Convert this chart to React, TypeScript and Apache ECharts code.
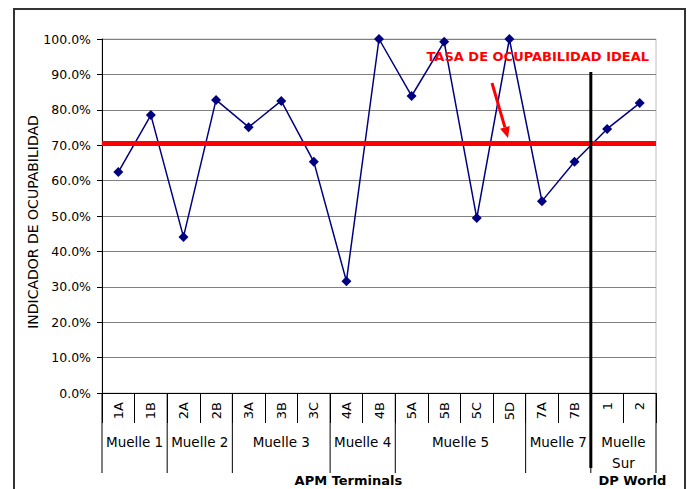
import React, { useEffect, useRef } from "react";
import * as echarts from "echarts";

const categories = ["1A", "1B", "2A", "2B", "3A", "3B", "3C", "4A", "4B", "5A", "5B", "5C", "5D", "7A", "7B", "1", "2"];
const occupancy = [62.4, 78.5, 44.1, 82.8, 75.1, 82.5, 65.3, 31.6, 100.0, 83.9, 99.2, 49.4, 100.0, 54.2, 65.3, 74.6, 81.9];
const idealRate = 70.6;
const groupNames = ["Muelle 1", "Muelle 2", "Muelle 3", "Muelle 4", "Muelle 5", "Muelle 7", "Muelle\nSur"];
const groupSizes = [2, 2, 3, 2, 4, 2, 2];
const terminalNames = ["APM Terminals", "DP World"];
const terminalSizes = [15, 2];
const yTicks = [0, 10, 20, 30, 40, 50, 60, 70, 80, 90, 100];
const yTitle = "INDICADOR DE OCUPABILIDAD";

const FONT = "DejaVu Sans";

export default function App() {
  const ref = useRef<HTMLDivElement>(null);
  useEffect(() => {
    if (!ref.current) return;
    const chart = echarts.init(ref.current, null, { renderer: "svg" });
    chart.setOption({
      animation: false,
      backgroundColor: "#fff",
      textStyle: { fontFamily: FONT },
      grid: { left: 102, right: 36, top: 39, bottom: 96, show: true, borderColor: "#c0c0c0", borderWidth: 1 },
      xAxis: {
        type: "category",
        data: categories,
        axisLine: { lineStyle: { color: "#000", width: 1 } },
        axisTick: { show: true, interval: 0, length: 30, alignWithLabel: false, lineStyle: { color: "#000" } },
        axisLabel: { interval: 0, rotate: 90, margin: 9, fontSize: 13, color: "#000", fontFamily: FONT },
        splitLine: { show: false },
      },
      yAxis: {
        type: "value",
        min: yTicks[0],
        max: yTicks[yTicks.length - 1],
        interval: 10,
        axisLine: { show: true, lineStyle: { color: "#000" } },
        axisTick: { show: true, length: 5, lineStyle: { color: "#000" } },
        axisLabel: { fontSize: 12.5, color: "#000", margin: 11, fontFamily: FONT, formatter: (v: number) => v.toFixed(1) + "%" },
        splitLine: { show: true, lineStyle: { color: "#808080", width: 1 } },
      },
      series: [
        {
          type: "line",
          data: occupancy,
          symbol: "diamond",
          symbolSize: 10,
          lineStyle: { color: "#000080", width: 1.5 },
          itemStyle: { color: "#000080" },
          markLine: {
            silent: true,
            symbol: ["none", "none"],
            label: { show: false },
            lineStyle: { color: "#ff0000", width: 5, type: "solid" },
            data: [{ yAxis: idealRate }],
          },
          z: 3,
        },
      ],
    });

    const xs = categories.map((_, i) => chart.convertToPixel({ xAxisIndex: 0 }, i) as number);
    const step = xs.length > 1 ? xs[1] - xs[0] : 30;
    const boundary = (i: number) => xs[0] - step / 2 + i * step;
    const axisY = chart.convertToPixel({ yAxisIndex: 0 }, 0) as number;
    const elements: any[] = [];

    // outer border
    elements.push({ type: "rect", shape: { x: 14, y: 9, width: 671, height: 495 }, style: { fill: "none", stroke: "#333", lineWidth: 2 }, z: 10 });

    // y axis title
    elements.push({
      type: "text",
      x: 33,
      y: 222,
      rotation: Math.PI / 2,
      style: { text: yTitle, fill: "#000", font: `14px "${FONT}"`, align: "center", verticalAlign: "middle" },
      z: 10,
    });

    // group separators and labels
    let idx = 0;
    const sepBottom = axisY + 80;
    elements.push({ type: "line", shape: { x1: boundary(0), y1: axisY, x2: boundary(0), y2: sepBottom }, style: { stroke: "#000", lineWidth: 1 }, z: 10 });
    groupNames.forEach((name, g) => {
      const start = idx;
      const end = idx + groupSizes[g];
      idx = end;
      elements.push({ type: "line", shape: { x1: boundary(end), y1: axisY, x2: boundary(end), y2: sepBottom }, style: { stroke: "#000", lineWidth: 1 }, z: 10 });
      elements.push({
        type: "text",
        x: (boundary(start) + boundary(end)) / 2,
        y: axisY + 38,
        style: { text: name, fill: "#000", font: `13.5px "${FONT}"`, align: "center", verticalAlign: "top", lineHeight: 21 },
        z: 10,
      });
    });

    // terminal labels
    idx = 0;
    terminalNames.forEach((name, t) => {
      const start = idx;
      const end = idx + terminalSizes[t];
      idx = end;
      elements.push({
        type: "text",
        x: (boundary(start) + boundary(end)) / 2 + (t === 1 ? 9 : 2),
        y: axisY + 87,
        style: { text: name, fill: "#000", font: `bold 13px "${FONT}"`, align: "center", verticalAlign: "middle" },
        z: 10,
      });
    });

    // thick divider between terminals
    const divX = boundary(terminalSizes[0]);
    elements.push({ type: "line", shape: { x1: divX, y1: 72, x2: divX, y2: sepBottom - 5 }, style: { stroke: "#000", lineWidth: 3 }, z: 11 });

    // annotation text and arrow
    elements.push({
      type: "text",
      x: 649,
      y: 56,
      style: { text: "TASA DE OCUPABILIDAD IDEAL", fill: "#ff0000", font: `bold 13px "${FONT}"`, align: "right", verticalAlign: "middle" },
      z: 12,
    });
    const ax1 = 492, ay1 = 83, ax2 = 508, ay2 = 138;
    const ang = Math.atan2(ay2 - ay1, ax2 - ax1);
    const hl = 11, hw = 5;
    const bx = ax2 - hl * Math.cos(ang), by = ay2 - hl * Math.sin(ang);
    elements.push({ type: "line", shape: { x1: ax1, y1: ay1, x2: bx, y2: by }, style: { stroke: "#ff0000", lineWidth: 3 }, z: 12 });
    elements.push({
      type: "polygon",
      shape: {
        points: [
          [ax2, ay2],
          [bx + hw * Math.sin(ang), by - hw * Math.cos(ang)],
          [bx - hw * Math.sin(ang), by + hw * Math.cos(ang)],
        ],
      },
      style: { fill: "#ff0000" },
      z: 12,
    });

    chart.setOption({ graphic: elements });
    return () => chart.dispose();
  }, []);
  return <div ref={ref} style={{ position: "fixed", left: 0, top: 0, width: 692, height: 489 }} />;
}
